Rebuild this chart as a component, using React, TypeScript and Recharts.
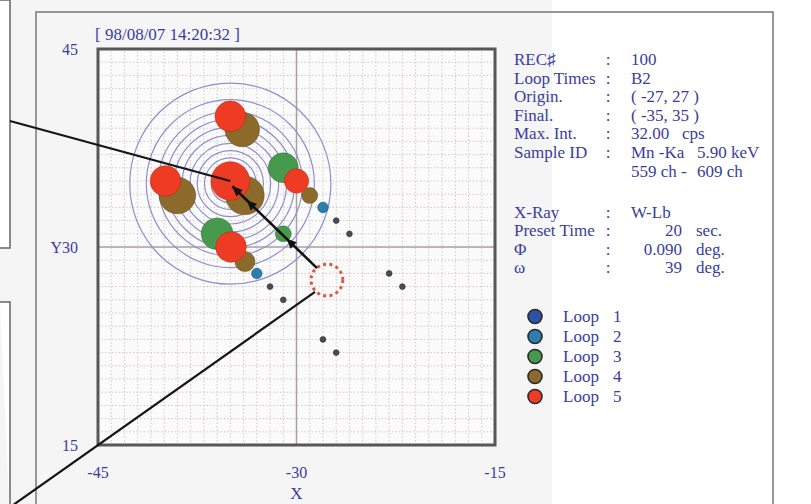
import React from 'react';
import {
  ScatterChart,
  Scatter,
  XAxis,
  YAxis,
  ReferenceLine,
  ReferenceArea,
  Legend,
} from 'recharts';

const INK = '#3a3d9c';
const FONT = '"Liberation Serif", "Times New Roman", serif';

// plot box (chart margins)
const W = 811;
const H = 504;
const M_TOP = 49;
const M_RIGHT = 316;
const Y_AXIS_W = 98;
const X_AXIS_H = 59;
const PLOT_W = W - M_RIGHT - Y_AXIS_W;
const UNIT = PLOT_W / 30; // px per data unit

const X_DOMAIN = [-45, -15];
const Y_DOMAIN = [15, 45];
const X_TICKS = [-45, -30, -15];
const Y_TICKS = [15, 30, 45];
const GRID_X = Array.from({ length: 29 }, (_, i) => -44 + i).filter((v) => v !== -30);
const GRID_Y = Array.from({ length: 29 }, (_, i) => 16 + i).filter((v) => v !== 30);

// loops, size = bubble radius in data units
const LOOP1 = [
  { x: -27, y: 32, size: 0.22 },
  { x: -26, y: 31, size: 0.22 },
  { x: -23, y: 28, size: 0.22 },
  { x: -22, y: 27, size: 0.22 },
  { x: -32, y: 27, size: 0.22 },
  { x: -31, y: 26, size: 0.22 },
  { x: -28, y: 23, size: 0.22 },
  { x: -27, y: 22, size: 0.22 },
];
const LOOP2 = [
  { x: -28, y: 33, size: 0.4 },
  { x: -33, y: 28, size: 0.4 },
];
const LOOP3 = [
  { x: -31, y: 36, size: 1.13 },
  { x: -36, y: 31, size: 1.2 },
  { x: -31, y: 31, size: 0.6 },
];
const LOOP4 = [
  { x: -34.1, y: 38.9, size: 1.3 },
  { x: -39, y: 33.9, size: 1.38 },
  { x: -33.9, y: 33.9, size: 1.46 },
  { x: -29, y: 33.9, size: 0.6 },
  { x: -33.9, y: 28.9, size: 0.76 },
];
const LOOP5 = [
  { x: -35, y: 39.9, size: 1.16 },
  { x: -39.9, y: 35, size: 1.16 },
  { x: -35, y: 35, size: 1.46 },
  { x: -30, y: 35, size: 0.92 },
  { x: -34.95, y: 30, size: 1.16 },
];

const LOOP_NAMES = ['1', '2', '3', '4', '5'];
const LOOP_COLORS = ['#2a52a8', '#2c7fad', '#47994d', '#8c6a2b', '#ee3b24'];
const LOOP_EDGES = ['#1c2f5e', '#1f4f6a', '#2f6a35', '#5e4518', '#b02a18'];

const RING_CENTER = [{ x: -35, y: 34.8 }];
const RING_RADII = [7.6, 6.35, 5.45, 4.85, 4.25, 3.65, 3.05, 2.5, 1.95, 1.45];

const ORIGIN = [{ x: -27.7, y: 27.5, size: 1.2 }];
const ARROW = [
  { x: -28.45, y: 28.4 },
  { x: -34.85, y: 34.6 },
];
const ARROW_HEADS = [0.36, 0.83, 1];
const CALLOUT_TOP = [
  { x: -51.65, y: 39.55 },
  { x: -35, y: 35 },
];
const CALLOUT_BOTTOM = [
  { x: -51.35, y: 10.5 },
  { x: -28.6, y: 26.6 },
];

const STAMP = '[ 98/08/07 14:20:32 ]';
const INFO_ROWS = [
  { label: 'REC\u266F', value: '100' },
  { label: 'Loop Times', value: 'B2' },
  { label: 'Origin.', value: '( -27, 27 )' },
  { label: 'Final.', value: '( -35, 35 )' },
  { label: 'Max. Int.', value: '32.00', unit: 'cps' },
  { label: 'Sample ID', value: 'Mn -Ka', unit: '5.90 keV' },
  { label: '', value: '559 ch -', unit: '609 ch', noColon: true },
];
const INFO_ROWS_2 = [
  { label: 'X-Ray', value: 'W-Lb' },
  { label: 'Preset Time', num: '20', unit: 'sec.' },
  { label: 'Φ', num: '0.090', unit: 'deg.' },
  { label: 'ω', num: '39', unit: 'deg.' },
];

const bubble = (fill: string, edge: string) => (p: any) => (
  <circle
    cx={p.cx}
    cy={p.cy}
    r={p.payload.size * UNIT}
    fill={fill}
    stroke={edge}
    strokeOpacity={0.5}
    strokeWidth={1}
  />
);

const Rings = (p: any) => (
  <g>
    {RING_RADII.map((r, i) => (
      <circle
        key={i}
        cx={p.cx}
        cy={p.cy}
        r={r * UNIT}
        fill="none"
        stroke="#8f8fcf"
        strokeWidth={1.2}
      />
    ))}
  </g>
);

const DashedCircle = (p: any) => (
  <circle
    cx={p.cx}
    cy={p.cy}
    r={p.payload.size * UNIT}
    fill="none"
    stroke="#e0553f"
    strokeWidth={3}
    strokeDasharray="3 3.4"
  />
);

const ArrowShape = (p: any) => {
  const { x1, y1, x2, y2 } = p;
  const dx = x2 - x1;
  const dy = y2 - y1;
  const len = Math.hypot(dx, dy) || 1;
  const ux = dx / len;
  const uy = dy / len;
  return (
    <g>
      <line x1={x1} y1={y1} x2={x2} y2={y2} stroke="#111" strokeWidth={2.6} strokeDasharray="none" />
      {ARROW_HEADS.map((t) => {
        const tx = x1 + dx * t;
        const ty = y1 + dy * t;
        const bx = tx - ux * 10;
        const by = ty - uy * 10;
        const pts = `${tx},${ty} ${bx - uy * 4.5},${by + ux * 4.5} ${bx + uy * 4.5},${by - ux * 4.5}`;
        return <polygon key={t} points={pts} fill="#111" />;
      })}
    </g>
  );
};

const LoopLegend = () => (
  <svg width={130} height={110}>
    {LOOP_NAMES.map((n, i) => (
      <g key={n}>
        <circle
          cx={15}
          cy={16.5 + i * 20}
          r={7}
          fill={LOOP_COLORS[i]}
          stroke="#2a2a2a"
          strokeWidth={1.6}
        />
        <text x={43} y={22 + i * 20} fill={INK} fontSize={17} fontFamily={FONT}>
          Loop
        </text>
        <text x={93} y={22 + i * 20} fill={INK} fontSize={17} fontFamily={FONT}>
          {n}
        </text>
      </g>
    ))}
  </svg>
);

const Info = () => {
  const txt = { fill: INK, fontSize: 17, fontFamily: FONT };
  const row = (r: any, y: number, i: number) => (
    <g key={i}>
      {r.label && <text x={514} y={y} {...txt}>{r.label}</text>}
      {!r.noColon && <text x={608} y={y} textAnchor="middle" {...txt}>:</text>}
      {r.value && <text x={631} y={y} {...txt}>{r.value}</text>}
      {r.num && <text x={682} y={y} textAnchor="end" {...txt}>{r.num}</text>}
      {r.unit && (
        <text x={r.num ? 696 : r.value === '32.00' ? 682 : 697} y={y} {...txt}>
          {r.unit}
        </text>
      )}
    </g>
  );
  return (
    <svg
      width={W}
      height={H}
      style={{ position: 'absolute', left: 0, top: 0, pointerEvents: 'none' }}
    >
      <text x={95} y={40} {...txt}>{STAMP}</text>
      {INFO_ROWS.map((r, i) => row(r, 65 + i * 18.6, i))}
      {INFO_ROWS_2.map((r, i) => row(r, 217.5 + i * 18.6, i + 10))}
    </svg>
  );
};

const Frames = () => (
  <svg width={W} height={H} style={{ position: 'absolute', left: 0, top: 0 }}>
    <rect x={36} y={12} width={737} height={520} fill="none" stroke="#777" strokeWidth={1.5} />
    <polyline points="0,0 10,0 10,248 0,248" fill="#fff" stroke="#666" strokeWidth={1.5} />
    <polyline points="0,302 10,302 10,520" fill="#fff" stroke="#666" strokeWidth={1.5} />
  </svg>
);

export default function App() {
  return (
    <div
      style={{
        position: 'absolute',
        left: 0,
        top: 0,
        width: W,
        height: H,
        overflow: 'hidden',
        background: 'linear-gradient(to right, #f5f5f5 0px, #f5f5f5 552px, #ffffff 552px)',
      }}
    >
      <Frames />
      <div style={{ position: 'absolute', left: 0, top: 0 }}>
        <ScatterChart
          width={W}
          height={H}
          margin={{ top: M_TOP, right: M_RIGHT, bottom: 0, left: 0 }}
        >
          <XAxis
            dataKey="x"
            type="number"
            domain={X_DOMAIN}
            ticks={X_TICKS}
            height={X_AXIS_H}
            axisLine={false}
            tickLine={false}
            tickMargin={16}
            tick={{ fill: INK, fontSize: 16, fontFamily: FONT }}
            allowDataOverflow
            label={{ value: 'X', position: 'insideBottom', offset: 5, fill: INK, fontSize: 17, fontFamily: FONT }}
          />
          <YAxis
            dataKey="y"
            type="number"
            domain={Y_DOMAIN}
            ticks={Y_TICKS}
            width={Y_AXIS_W}
            axisLine={false}
            tickLine={false}
            tickMargin={14}
            tickFormatter={(v: number) => (v === 30 ? 'Y30' : String(v))}
            tick={{ fill: INK, fontSize: 16, fontFamily: FONT }}
            allowDataOverflow
          />
          <ReferenceArea
            x1={X_DOMAIN[0]}
            x2={X_DOMAIN[1]}
            y1={Y_DOMAIN[0]}
            y2={Y_DOMAIN[1]}
            fill="#fbfbfb"
            fillOpacity={1}
          />
          {GRID_X.map((v) => (
            <ReferenceLine key={`gx${v}`} x={v} stroke="#d3c7c7" strokeWidth={1} strokeDasharray="1.5 2" />
          ))}
          {GRID_Y.map((v) => (
            <ReferenceLine key={`gy${v}`} y={v} stroke="#d3c7c7" strokeWidth={1} strokeDasharray="1.5 2" />
          ))}
          <ReferenceLine x={-30} stroke="#ab9e9e" strokeWidth={1.5} />
          <ReferenceLine y={30} stroke="#ab9e9e" strokeWidth={1.5} />
          <Scatter name="rings" data={RING_CENTER} shape={Rings} isAnimationActive={false} />
          <Scatter name="Loop 1" data={LOOP1} shape={bubble('#4a4a58', '#222')} isAnimationActive={false} />
          <Scatter name="Loop 2" data={LOOP2} shape={bubble(LOOP_COLORS[1], LOOP_EDGES[1])} isAnimationActive={false} />
          <Scatter name="Loop 3" data={LOOP3} shape={bubble(LOOP_COLORS[2], LOOP_EDGES[2])} isAnimationActive={false} />
          <Scatter name="Loop 4" data={LOOP4} shape={bubble(LOOP_COLORS[3], LOOP_EDGES[3])} isAnimationActive={false} />
          <Scatter name="Loop 5" data={LOOP5} shape={bubble(LOOP_COLORS[4], LOOP_EDGES[4])} isAnimationActive={false} />
          <Scatter name="origin" data={ORIGIN} shape={DashedCircle} isAnimationActive={false} />
          <ReferenceArea
            x1={X_DOMAIN[0]}
            x2={X_DOMAIN[1]}
            y1={Y_DOMAIN[0]}
            y2={Y_DOMAIN[1]}
            fill="none"
            stroke="#575757"
            strokeWidth={3}
            ifOverflow="visible"
            zIndex={1500}
          />
          <ReferenceLine segment={ARROW} shape={ArrowShape} ifOverflow="visible" zIndex={1600} />
          <ReferenceLine segment={CALLOUT_TOP} stroke="#151515" strokeWidth={2.2} ifOverflow="visible" zIndex={1600} />
          <ReferenceLine segment={CALLOUT_BOTTOM} stroke="#151515" strokeWidth={2.2} ifOverflow="visible" zIndex={1600} />
          <Legend
            layout="horizontal"
            verticalAlign="middle"
            content={LoopLegend}
            wrapperStyle={{ left: 520, top: 300, width: 130, height: 110 }}
          />
        </ScatterChart>
      </div>
      <Info />
    </div>
  );
}
